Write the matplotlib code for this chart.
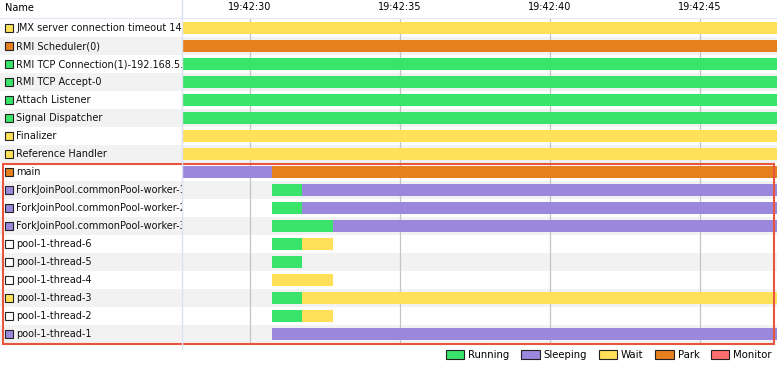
import matplotlib.pyplot as plt
from matplotlib.patches import Rectangle, Patch

W, H = 777, 366

# visible time window (seconds after 19:42:00)
T0, T1 = 27.73, 47.57

threads = [
    "JMX server connection timeout 14",
    "RMI Scheduler(0)",
    "RMI TCP Connection(1)-192.168.5.1",
    "RMI TCP Accept-0",
    "Attach Listener",
    "Signal Dispatcher",
    "Finalizer",
    "Reference Handler",
    "main",
    "ForkJoinPool.commonPool-worker-1",
    "ForkJoinPool.commonPool-worker-2",
    "ForkJoinPool.commonPool-worker-3",
    "pool-1-thread-6",
    "pool-1-thread-5",
    "pool-1-thread-4",
    "pool-1-thread-3",
    "pool-1-thread-2",
    "pool-1-thread-1",
]

# (state, start, end) per thread
segments = [
    [("Wait", T0, T1)],
    [("Park", T0, T1)],
    [("Running", T0, T1)],
    [("Running", T0, T1)],
    [("Running", T0, T1)],
    [("Running", T0, T1)],
    [("Wait", T0, T1)],
    [("Wait", T0, T1)],
    [("Sleeping", T0, 30.73), ("Park", 30.73, T1)],
    [("Running", 30.73, 31.73), ("Sleeping", 31.73, T1)],
    [("Running", 30.73, 31.73), ("Sleeping", 31.73, T1)],
    [("Running", 30.73, 32.77), ("Sleeping", 32.77, T1)],
    [("Running", 30.73, 31.73), ("Wait", 31.73, 32.77)],
    [("Running", 30.73, 31.73)],
    [("Wait", 30.73, 32.77)],
    [("Running", 30.73, 31.73), ("Wait", 31.73, T1)],
    [("Running", 30.73, 31.73), ("Wait", 31.73, 32.77)],
    [("Sleeping", 30.73, T1)],
]

tick_secs = [30, 35, 40, 45]
tick_labels = ["19:42:30", "19:42:35", "19:42:40", "19:42:45"]

states = ["Running", "Sleeping", "Wait", "Park", "Monitor"]
state_colors = {"Running": "#3ae46a", "Sleeping": "#9b87dc", "Wait": "#ffe159",
                "Park": "#e6801f", "Monitor": "#ff6e6e"}

plt.rcParams['font.family'] = 'DejaVu Sans'
plt.rcParams['font.size'] = 7

fig = plt.figure(figsize=(W / 100, H / 100), dpi=100)

def fx(px):
    return px / W

def fy(py):
    return 1 - py / H

n = len(threads)
row_top, row_h = 19, 18
bottom_px = row_top + row_h * n

# name column and timeline share the same rows
ax_name = fig.add_axes([0, fy(bottom_px), fx(182), fy(row_top) - fy(bottom_px)])
ax = fig.add_axes([fx(182), fy(bottom_px), 1 - fx(182), fy(row_top) - fy(bottom_px)])

for a in (ax_name, ax):
    a.set_ylim(n, 0)
    for s in a.spines.values():
        s.set_visible(False)
    for i in range(n):
        if i % 2 == 1:
            a.axhspan(i, i + 1, color="#f2f2f2", lw=0, zorder=0)

ax_name.set_xlim(0, 182)
ax_name.set_xticks([])
ax_name.set_yticks([])

for i, name in enumerate(threads):
    last_state, _, last_end = segments[i][-1]
    mark = state_colors[last_state] if last_end >= T1 else "white"
    ax_name.add_patch(Rectangle((4.5, i + 0.27), 8, 0.46, facecolor=mark,
                                edgecolor="#222222", lw=0.8, zorder=2))
    ax_name.text(16, i + 0.52, name, va="center", ha="left", fontsize=7,
                 color="#111111", clip_on=True, zorder=3)

ax.set_xlim(T0, T1)
ax.set_yticks([])
ax.xaxis.tick_top()
ax.set_xticks(tick_secs)
ax.set_xticklabels(tick_labels, fontsize=7)
ax.tick_params(axis="x", length=0, pad=5)
for t in tick_secs:
    ax.axvline(t, color="#c4c4c4", lw=0.9, zorder=1)

for i, segs in enumerate(segments):
    for state, start, end in segs:
        ax.barh(i + 0.5, end - start, left=start, height=0.67,
                color=state_colors[state], lw=0, zorder=2)

# header
fig.text(fx(5), fy(8), "Name", fontsize=7, va="center", ha="left")
fig.add_artist(plt.Line2D([0, 1], [fy(18), fy(18)], color="#e4e8f0", lw=1))
fig.add_artist(plt.Line2D([fx(182), fx(182)], [fy(0), fy(349)], color="#dde2f2", lw=1))

# selection box
fig.add_artist(Rectangle((fx(2.5), fy(343.5)), fx(771), fy(164) - fy(343.5),
                         transform=fig.transFigure, fill=False,
                         edgecolor="#e8553f", lw=1.5))

handles = [Patch(facecolor=state_colors[s], edgecolor="#222222", lw=0.8) for s in states]
fig.legend(handles, states, loc="center right", bbox_to_anchor=(fx(772), fy(355)),
           ncol=5, frameon=False, fontsize=7.3, handlelength=1.8, handleheight=1.05,
           handletextpad=0.4, columnspacing=1.15, borderpad=0, borderaxespad=0)

fig.savefig("out.png", dpi=100)
